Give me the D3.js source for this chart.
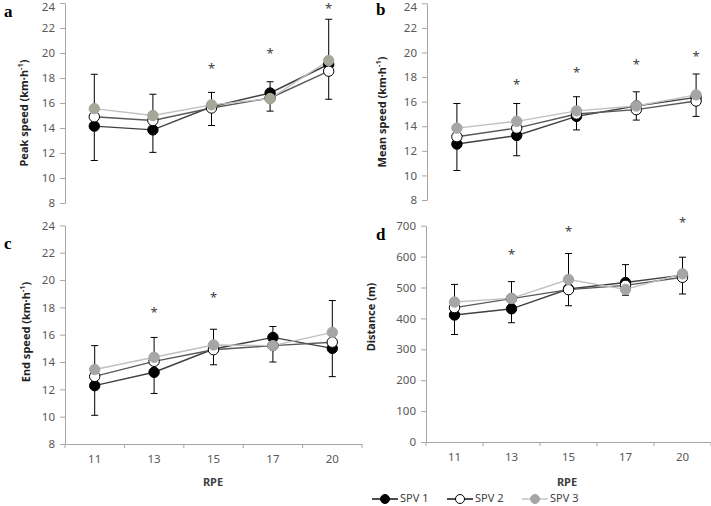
<!DOCTYPE html>
<html>
<head>
<meta charset="utf-8">
<script src="https://cdn.jsdelivr.net/npm/d3@7"></script>
<style>
  html, body { margin: 0; padding: 0; background: #fff; }
  svg { display: block; }
</style>
</head>
<body>
<svg id="chart" width="711" height="506"></svg>
<script>
// ---------------- DATA ----------------
const categories = ["11", "13", "15", "17", "20"];
const seriesNames = ["SPV 1", "SPV 2", "SPV 3"];

// a: Peak speed (km·h-1)
const peakSPV1 = [14.15, 13.85, 15.7, 16.8, 19.1];
const peakSPV2 = [14.9, 14.6, 15.6, 16.4, 18.55];
const peakSPV3 = [15.55, 15.0, 15.85, 16.35, 19.4];
const peakErrHigh = [18.3, 16.7, 16.85, 17.7, 22.7];
const peakErrLow = [11.4, 12.05, 14.2, 15.35, 16.3];
const peakStars = [null, null, 19.0, 20.2, 23.8];

// b: Mean speed (km·h-1)
const meanSPV1 = [12.55, 13.25, 14.8, 15.65, 16.35];
const meanSPV2 = [13.15, 13.85, 15.0, 15.35, 16.05];
const meanSPV3 = [13.85, 14.4, 15.25, 15.65, 16.55];
const meanErrHigh = [15.85, 15.85, 16.4, 16.8, 18.25];
const meanErrLow = [10.4, 11.6, 13.7, 14.5, 14.8];
const meanStars = [null, 17.6, 18.6, 19.25, 19.9];

// c: End speed (km·h-1)
const endSPV1 = [12.27, 13.25, 14.95, 15.8, 15.0];
const endSPV2 = [12.95, 14.05, 14.9, 15.2, 15.45];
const endSPV3 = [13.45, 14.35, 15.25, 15.2, 16.17];
const endErrHigh = [15.2, 15.8, 16.4, 16.6, 18.5];
const endErrLow = [10.1, 11.7, 13.8, 14.0, 12.93];
const endStars = [null, 17.8, 18.95, null, null];

// d: Distance (m)
const distSPV1 = [411, 431, 495, 516, 540];
const distSPV2 = [435, 464, 493, 507, 533];
const distSPV3 = [453, 465, 526, 494, 544];
const distErrHigh = [510, 519, 610, 574, 598];
const distErrLow = [348, 386, 441, 475, 479];
const distStars = [null, 616, 689, null, 718];

const speedTicks = [8, 10, 12, 14, 16, 18, 20, 22, 24];
const distTicks = [0, 100, 200, 300, 400, 500, 600, 700];

// ---------------- STYLE ----------------
const FONT = "'Noto Sans', 'Open Sans', sans-serif";
const lineColors = ["#404040", "#595959", "#c0c0c0"];
const markerFill = ["#000000", "#ffffff", "#a6a6a6"];
const markerStroke = ["#000000", "#000000", "#a6a6a6"];

const svg = d3.select("#chart");

const panels = [
  { letter: "a", label: "Peak speed (km·h", sup: "-1", suffix: ")",
    series: [peakSPV1, peakSPV2, peakSPV3], hi: peakErrHigh, lo: peakErrLow, stars: peakStars,
    domain: [8, 24], ticks: speedTicks,
    x0: 65, x1: 358, yB: 203, yT: 3, showX: false,
    lab: [25, 113], let: [4, 17], grayFill: "#a3a898" },
  { letter: "b", label: "Mean speed (km·h", sup: "-1", suffix: ")",
    series: [meanSPV1, meanSPV2, meanSPV3], hi: meanErrHigh, lo: meanErrLow, stars: meanStars,
    domain: [8, 24], ticks: speedTicks,
    x0: 427, x1: 726, yB: 200, yT: 3.3, showX: false,
    lab: [383, 112], let: [376, 15] },
  { letter: "c", label: "End speed (km·h", sup: "-1", suffix: ")",
    series: [endSPV1, endSPV2, endSPV3], hi: endErrHigh, lo: endErrLow, stars: endStars,
    domain: [8, 24], ticks: speedTicks,
    x0: 65, x1: 362, yB: 444, yT: 225.4, showX: true,
    lab: [27, 332], let: [4, 249], xlab: [213, 483] },
  { letter: "d", label: "Distance  (m)", sup: null, suffix: "",
    series: [distSPV1, distSPV2, distSPV3], hi: distErrHigh, lo: distErrLow, stars: distStars,
    domain: [0, 700], ticks: distTicks,
    x0: 426, x1: 711, yB: 442, yT: 225.7, showX: true,
    lab: [372, 317], let: [376, 240], xlab: [567, 483] }
];

panels.forEach(p => {
  const g = svg.append("g");
  const x = d3.scaleBand().domain(categories).range([p.x0, p.x1]).padding(0);
  const y = d3.scaleLinear().domain(p.domain).range([p.yB, p.yT]);
  const cx = c => x(c) + x.bandwidth() / 2;

  // y axis
  const ya = g.append("g").attr("transform", `translate(${p.x0},0)`)
    .call(d3.axisLeft(y).tickValues(p.ticks).tickSize(5).tickSizeOuter(0).tickPadding(5));
  ya.select(".domain").attr("stroke", "#a6a6a6");
  ya.selectAll(".tick line").attr("stroke", "#a6a6a6");
  ya.selectAll(".tick text").attr("fill", "#595959").style("font-family", FONT).style("font-size", "11.5px")
    .attr("dy", d => (y(d) < 8 ? "0.62em" : "0.32em"));

  // x axis
  if (p.showX) {
    const xa = g.append("g").attr("transform", `translate(0,${p.yB})`)
      .call(d3.axisBottom(x).tickSize(0).tickSizeOuter(0).tickPadding(11));
    xa.select(".domain").attr("stroke", "#a6a6a6");
    xa.selectAll(".tick text").attr("fill", "#595959").style("font-family", FONT).style("font-size", "11.5px");
    const bounds = categories.map(c => x(c)).concat([x(categories[categories.length - 1]) + x.bandwidth()]);
    g.append("g").selectAll("line").data(bounds).join("line")
      .attr("x1", d => d).attr("x2", d => d)
      .attr("y1", p.yB).attr("y2", p.yB + 4)
      .attr("stroke", "#a6a6a6");
    g.append("text").attr("x", p.xlab[0]).attr("y", p.xlab[1])
      .attr("text-anchor", "middle").attr("dominant-baseline", "middle")
      .style("font-family", FONT).style("font-size", "11px").style("font-weight", "bold")
      .attr("fill", "#404040").text("RPE");
  }

  // y label
  const yl = g.append("text")
    .attr("transform", `translate(${p.lab[0]},${p.lab[1]}) rotate(-90)`)
    .attr("text-anchor", "middle").attr("dominant-baseline", "middle")
    .style("font-family", FONT).style("font-size", "11px").style("font-weight", "bold")
    .attr("fill", "#222");
  yl.append("tspan").text(p.label);
  if (p.sup) {
    yl.append("tspan").attr("dy", "-4").style("font-size", "7.5px").text(p.sup);
    yl.append("tspan").attr("dy", "4").text(p.suffix);
  }

  // panel letter
  g.append("text").attr("x", p.let[0]).attr("y", p.let[1])
    .style("font-family", "'Liberation Serif', 'DejaVu Serif', serif")
    .style("font-size", "17px").style("font-weight", "bold")
    .attr("fill", "#000").text(p.letter);

  // error bars
  const eb = g.append("g").attr("stroke", "#000").attr("stroke-width", 1);
  categories.forEach((c, i) => {
    const xc = cx(c);
    eb.append("line").attr("x1", xc).attr("x2", xc).attr("y1", y(p.hi[i])).attr("y2", y(p.lo[i]));
    eb.append("line").attr("x1", xc - 3.5).attr("x2", xc + 3.5).attr("y1", y(p.hi[i])).attr("y2", y(p.hi[i]));
    eb.append("line").attr("x1", xc - 3.5).attr("x2", xc + 3.5).attr("y1", y(p.lo[i])).attr("y2", y(p.lo[i]));
  });

  // lines + markers
  const line = d3.line().x((d, i) => cx(categories[i])).y(d => y(d));
  p.series.forEach((s, k) => {
    g.append("path").datum(s).attr("d", line)
      .attr("fill", "none").attr("stroke", lineColors[k]).attr("stroke-width", 1.4);
  });
  p.series.forEach((s, k) => {
    const fill = (k === 2 && p.grayFill) ? p.grayFill : markerFill[k];
    const stroke = (k === 2 && p.grayFill) ? p.grayFill : markerStroke[k];
    g.append("g").selectAll("circle").data(s).join("circle")
      .attr("cx", (d, i) => cx(categories[i])).attr("cy", d => y(d)).attr("r", 5.2)
      .attr("fill", fill).attr("stroke", stroke).attr("stroke-width", 1);
  });

  // significance stars
  g.append("g").selectAll("text").data(p.stars.map((v, i) => ({ v, c: categories[i] })).filter(d => d.v !== null))
    .join("text")
    .attr("x", d => cx(d.c)).attr("y", d => y(d.v)).attr("dy", "0.55em")
    .attr("text-anchor", "middle")
    .style("font-family", FONT).style("font-size", "13px")
    .attr("fill", "#404040").text("*");
});

// legend
const legendX = [372, 447, 522];
const legendY = 499;
const lg = svg.append("g");
seriesNames.forEach((name, k) => {
  const lx = legendX[k];
  lg.append("line").attr("x1", lx).attr("x2", lx + 26).attr("y1", legendY).attr("y2", legendY)
    .attr("stroke", k === 2 ? "#c0c0c0" : "#000").attr("stroke-width", 1.4);
  lg.append("circle").attr("cx", lx + 13).attr("cy", legendY).attr("r", 4.5)
    .attr("fill", markerFill[k]).attr("stroke", markerStroke[k]).attr("stroke-width", 1);
  lg.append("text").attr("x", lx + 28).attr("y", legendY).attr("dominant-baseline", "middle")
    .style("font-family", FONT).style("font-size", "11px")
    .attr("fill", "#404040").text(name);
});
</script>
</body>
</html>
